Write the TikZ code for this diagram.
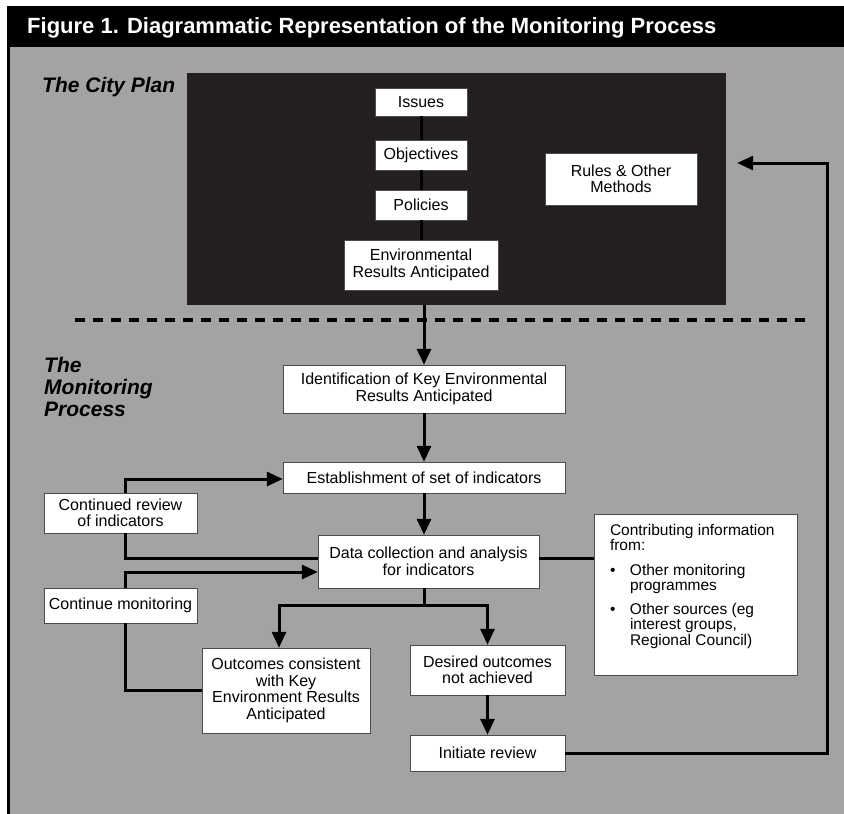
\documentclass[tikz,border=0pt]{standalone}
\usepackage{fontspec}
\setmainfont{Liberation Sans}
\usetikzlibrary{positioning, arrows.meta, calc}
\definecolor{panelgray}{HTML}{A3A3A3}
\definecolor{plandark}{HTML}{231F20}

\begin{document}
\begin{tikzpicture}[
    x=1pt, y=-1pt,
    >={Triangle[length=16pt,width=14pt]},
    box/.style={
        draw=black!70,
        fill=white,
        align=center,
        inner sep=2pt,
        font=\fontsize{16}{16.5}\selectfont
    },
    flow/.style={line width=3pt},
    heading/.style={
        anchor=north west,
        align=left,
        inner sep=0pt,
        font=\fontsize{21}{22}\selectfont\bfseries\itshape
    }
]
  \useasboundingbox (0,0) rectangle (844,814);
  % page, panel and title bar
  \fill[white] (0,0) rectangle (844,814);
  \fill[panelgray] (7,47) rectangle (844,814);
  \fill[black] (7,6) rectangle (844,47);
  \draw[line width=3pt] (8.5,47) -- (8.5,814);
  \node[anchor=west, inner sep=0pt, text=white,
        font=\fontsize{22}{24}\selectfont\bfseries] (title) at (27,28)
        {Figure 1. Diagrammatic Representation of the Monitoring Process};

  % the city plan
  \node[heading] (cityplan) at (42,77) {The City Plan};
  \node[fill=plandark, inner sep=0pt, minimum width=539pt, minimum height=232pt] (plan) at (456.5,189) {};
  \node[box, minimum width=92pt, minimum height=28pt] (issues) at (421,102) {Issues};
  \node[box, minimum width=92pt, minimum height=30pt] (objectives) at (421,155) {Objectives};
  \node[box, minimum width=92pt, minimum height=30pt] (policies) at (421,205) {Policies};
  \node[box, minimum width=154pt, minimum height=50pt] (era) at (421,265) {Environmental\\Results Anticipated};
  \node[box, minimum width=152pt, minimum height=52pt] (rules) at (621,179) {Rules \& Other\\Methods};
  \foreach \a/\b in {issues/objectives, objectives/policies, policies/era}
    \draw[flow] (\a.south) -- (\b.north);

  % separator
  \draw[line width=4pt, dash pattern=on 10pt off 8pt] (75,320) -- (810,320);

  % the monitoring process
  \node[heading] (monitoring) at (44,357) {The\\Monitoring\\Process};
  \node[box, minimum width=282pt, minimum height=48pt] (ident) at (424,389) {Identification of Key Environmental\\Results Anticipated};
  \node[box, minimum width=282pt, minimum height=31pt] (estab) at (424,477.5) {Establishment of set of indicators};
  \node[box, minimum width=221pt, minimum height=53pt] (dataco) at (428.5,561.5) {Data collection and analysis\\for indicators};
  \node[box, minimum width=153pt, minimum height=40pt] (review) at (120.5,513) {Continued review\\of indicators};
  \node[box, minimum width=153pt, minimum height=35pt] (contmon) at (120.5,605.5) {Continue monitoring};
  \node[box, minimum width=168pt, minimum height=85pt] (outcome) at (286,690.5) {Outcomes consistent\\with Key\\Environment Results\\Anticipated};
  \node[box, minimum width=155pt, minimum height=50pt] (desired) at (487.5,670) {Desired outcomes\\not achieved};
  \node[box, minimum width=155pt, minimum height=36pt] (initiate) at (487.5,753) {Initiate review};
  \node[box, inner sep=0pt] (contrib) at (695.5,594.5) {%
    \begin{minipage}[c][161pt][t]{203pt}
      \vspace{10pt}
      \leftskip=16pt \rightskip=2pt plus 1fil
      \fontsize{15.5}{15.5}\selectfont
      Contributing information\\from:\par
      \vspace{9pt}
      \hangindent=20pt\hangafter=1\makebox[20pt][l]{\textbullet}Other monitoring\\programmes\par
      \vspace{8pt}
      \hangindent=20pt\hangafter=1\makebox[20pt][l]{\textbullet}Other sources (eg\\interest groups,\\Regional Council)\par
    \end{minipage}};

  % connectors
  \draw[flow,->] (ident.north |- plan.south) -- (ident.north);
  \draw[flow,->] (ident.south) -- (estab.north);
  \draw[flow,->] (estab.south) -- (estab.south |- dataco.north);
  \draw[flow] (dataco.south -| estab.south) -- ++(0,17) coordinate (split);
  \draw[flow,->] (split) -| ([xshift=-7pt]outcome.north);
  \draw[flow,->] (split) -| (desired.north);
  \draw[flow,->] (desired.south) -- (initiate.north);
  \coordinate (loop) at (827,163);
  \draw[flow,->] (initiate.east) -| (loop) -- ([xshift=11pt]plan.east |- loop);
  \draw[flow] ([yshift=3.5pt]dataco.west) -| ([xshift=4.5pt]review.south);
  \draw[flow,->] ([xshift=4.5pt]review.north) |- ([yshift=-1.5pt]estab.west);
  \draw[flow] (outcome.west) -| ([xshift=4.5pt]contmon.south);
  \draw[flow,->] ([xshift=4.5pt]contmon.north) |- ([yshift=-10.5pt]dataco.west);
  \draw[flow] ([yshift=3.5pt]dataco.east) -- ([yshift=3.5pt]dataco.east -| contrib.west);
\end{tikzpicture}
\end{document}
